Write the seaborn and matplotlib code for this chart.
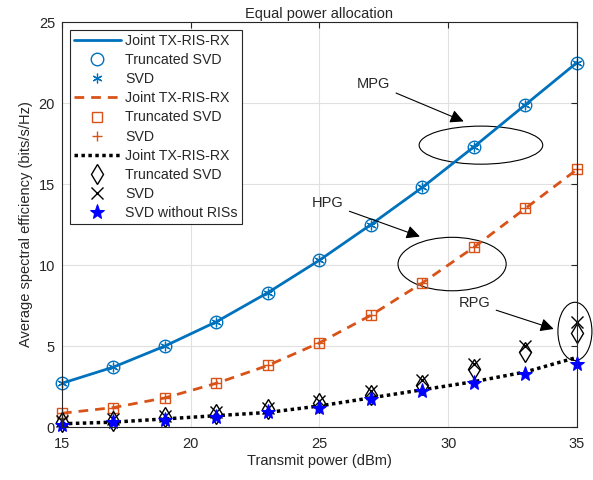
import matplotlib
matplotlib.use("Agg")
import matplotlib.pyplot as plt
from matplotlib.patches import Ellipse
import seaborn as sns
import numpy as np

# Data

power = [15, 17, 19, 21, 23, 25, 27, 29, 31, 33, 35]

mpg_joint = [2.7, 3.7, 5.0, 6.5, 8.3, 10.3, 12.5, 14.8, 17.3, 19.9, 22.5]
mpg_trunc = [2.7, 3.7, 5.0, 6.5, 8.3, 10.3, 12.5, 14.8, 17.3, 19.9, 22.5]
mpg_svd = [2.7, 3.7, 5.0, 6.5, 8.3, 10.3, 12.5, 14.8, 17.3, 19.9, 22.5]

hpg_joint = [0.85, 1.2, 1.8, 2.7, 3.8, 5.2, 6.9, 8.9, 11.1, 13.5, 15.9]
hpg_trunc = [0.85, 1.2, 1.8, 2.7, 3.8, 5.2, 6.9, 8.9, 11.1, 13.5, 15.9]
hpg_svd = [0.85, 1.2, 1.8, 2.7, 3.8, 5.2, 6.9, 8.9, 11.1, 13.5, 15.9]

rpg_joint = [0.2, 0.3, 0.5, 0.7, 0.9, 1.3, 1.8, 2.3, 2.8, 3.4, 4.3]
rpg_trunc = [0.3, 0.4, 0.6, 0.8, 1.1, 1.5, 2.0, 2.6, 3.6, 4.6, 5.8]
rpg_svd = [0.4, 0.5, 0.7, 0.9, 1.2, 1.6, 2.2, 2.9, 3.9, 5.0, 6.5]
svd_no_ris = [0.1, 0.3, 0.45, 0.6, 0.9, 1.2, 1.7, 2.2, 2.7, 3.3, 3.9]

blue = "#0072BD"
orange = "#D95319"

sns.set_style("whitegrid")
plt.rcParams["font.family"] = ["Liberation Sans", "DejaVu Sans"]

fig = plt.figure(figsize=(5.93, 4.80), dpi=100)
ax = fig.add_axes([0.1045, 0.1104, 0.8685, 0.8437])

# MPG
sns.lineplot(x=power, y=mpg_joint, ax=ax, color=blue, linewidth=2,
             label="Joint TX-RIS-RX")
sns.lineplot(x=power, y=mpg_trunc, ax=ax, color=blue, linestyle="",
             marker="o", markersize=9, markerfacecolor="none",
             markeredgecolor=blue, markeredgewidth=1, clip_on=False,
             label="Truncated SVD")
sns.lineplot(x=power, y=mpg_svd, ax=ax, color=blue, linestyle="",
             marker=(6, 2, 0), markersize=7, markeredgecolor=blue,
             markeredgewidth=0.9, clip_on=False, label="SVD")

# HPG
sns.lineplot(x=power, y=hpg_joint, ax=ax, color=orange, linewidth=2,
             dashes=False, linestyle=(0, (3.5, 2.5)), label="Joint TX-RIS-RX")
sns.lineplot(x=power, y=hpg_trunc, ax=ax, color=orange, linestyle="",
             marker="s", markersize=7.5, markerfacecolor="none",
             markeredgecolor=orange, markeredgewidth=1, clip_on=False,
             label="Truncated SVD")
sns.lineplot(x=power, y=hpg_svd, ax=ax, color=orange, linestyle="",
             marker="+", markersize=7, markeredgecolor=orange,
             markeredgewidth=1, clip_on=False, label="SVD")

# RPG
sns.lineplot(x=power, y=rpg_joint, ax=ax, color="black", linewidth=2.5,
             dashes=False, linestyle=(0, (1, 1)), label="Joint TX-RIS-RX")
sns.lineplot(x=power, y=rpg_trunc, ax=ax, color="black", linestyle="",
             marker="d", markersize=10.5, markerfacecolor="none",
             markeredgecolor="black", markeredgewidth=1, clip_on=False,
             label="Truncated SVD")
sns.lineplot(x=power, y=rpg_svd, ax=ax, color="black", linestyle="",
             marker="x", markersize=8, markeredgecolor="black",
             markeredgewidth=1, clip_on=False, label="SVD")
sns.lineplot(x=power, y=svd_no_ris, ax=ax, color="blue", linestyle="",
             marker="*", markersize=11, markeredgecolor="blue",
             markerfacecolor="blue", clip_on=False, label="SVD without RISs")

# Annotations
arrow = dict(arrowstyle="-|>", color="black", lw=0.8, mutation_scale=20)
ax.add_patch(Ellipse((31.27, 17.4), 4.8, 2.35, fill=False, color="black", lw=0.8))
ax.annotate("MPG", xy=(30.7, 18.8), xytext=(26.45, 21.2), fontsize=10.5,
            va="center", arrowprops=arrow)
ax.add_patch(Ellipse((30.15, 10.06), 4.2, 3.3, fill=False, color="black", lw=0.8))
ax.annotate("HPG", xy=(29.0, 11.7), xytext=(24.7, 13.8), fontsize=10.5,
            va="center", arrowprops=arrow)
ax.add_patch(Ellipse((34.92, 5.9), 1.32, 3.6, fill=False, color="black", lw=0.8,
                     clip_on=False))
ax.annotate("RPG", xy=(34.2, 6.0), xytext=(30.4, 7.65), fontsize=10.5,
            va="center", arrowprops=arrow)

ax.set_xlim(15, 35)
ax.set_ylim(0, 25)
ax.set_xticks(np.arange(15, 36, 5))
ax.set_yticks(np.arange(0, 26, 5))
ax.tick_params(labelsize=10.5, direction="in", length=4, width=0.8,
               color="#262626", pad=5, top=True, right=True)
ax.tick_params(axis="x", pad=7)
ax.grid(True, color="#e0e0e0", linewidth=0.8)
for s in ax.spines.values():
    s.set_color("#262626")
    s.set_linewidth(0.8)

ax.set_xlabel("Transmit power (dBm)", fontsize=10.5, labelpad=2)
ax.set_ylabel("Average spectral efficiency (bits/s/Hz)", fontsize=10.5, labelpad=4)
ax.set_title("Equal power allocation", fontsize=10.5, pad=3)

leg = ax.legend(loc="upper left", fontsize=10.2, handlelength=3.3,
                labelspacing=0.36, borderpad=0.3, handletextpad=0.3,
                fancybox=False, framealpha=1, borderaxespad=0.55)
leg.get_frame().set_edgecolor("#262626")
leg.get_frame().set_linewidth(0.8)

plt.savefig("out.png", dpi=100)
